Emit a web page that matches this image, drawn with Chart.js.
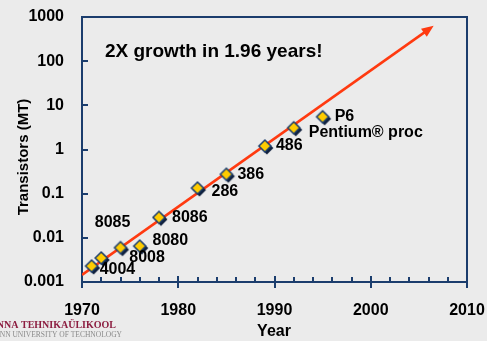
<!DOCTYPE html>
<html lang="en">
<head>
  <meta charset="UTF-8">
  <title>Transistor count growth</title>
  <script src="https://cdn.jsdelivr.net/npm/chart.js"></script>
  <style>
    * { margin: 0; padding: 0; box-sizing: border-box; }
    html, body { background: #ebebeb; width: 487px; height: 341px; overflow: hidden; }
    .chart-container { position: relative; width: 487px; height: 341px; }
  </style>
</head>
<body>
  <div class="chart-container">
    <canvas id="mooreChart" width="487" height="341"></canvas>
  </div>

  <script>
    // Processor data (transistors in millions)
    const chips = ['4004', '8008', '8080', '8085', '8086', '286', '386', '486', 'Pentium® proc', 'P6'];
    const years = [1971, 1972, 1974, 1976, 1978, 1982, 1985, 1989, 1992, 1995];
    const transistors = [0.0023, 0.0035, 0.006, 0.0065, 0.029, 0.134, 0.275, 1.2, 3.1, 5.5];

    // Trend line (2X in 1.96 years)
    const trendYears = [1970, 2006.2];
    const trendValues = [0.00145, 560];

    const xTicks = [1970, 1980, 1990, 2000, 2010];
    const yTicks = [0.001, 0.01, 0.1, 1, 10, 100, 1000];

    const NAVY = '#1b3d6d';
    const FONT = "'Liberation Sans', Arial, sans-serif";

    // label offsets from each marker (px)
    const labelOffsets = {
      '4004': [8, 4], '8008': [28, 0], '8080': [32, -7], '8085': [-45, -24],
      '8086': [13, 0], '286': [14, 4], '386': [11, 0], '486': [11, 0],
      'Pentium® proc': [15, 5], 'P6': [12, 0]
    };

    // diamond marker with a dark drop shadow, used as point style
    function makeDiamond() {
      const c = document.createElement('canvas');
      c.width = 20; c.height = 20;
      const g = c.getContext('2d');
      const diamond = (cx, cy, r) => {
        g.beginPath();
        g.moveTo(cx, cy - r); g.lineTo(cx + r, cy); g.lineTo(cx, cy + r); g.lineTo(cx - r, cy);
        g.closePath();
      };
      diamond(12, 12, 6.5);
      g.fillStyle = '#0e1f3d';
      g.fill();
      diamond(10, 10, 6);
      g.fillStyle = '#ffcc00';
      g.fill();
      g.lineWidth = 1.5;
      g.strokeStyle = NAVY;
      g.stroke();
      return c;
    }

    const decorPlugin = {
      id: 'decor',
      beforeDatasetsDraw(chart) {
        const { ctx, chartArea: a, scales: { x, y } } = chart;
        ctx.save();
        ctx.strokeStyle = NAVY;
        ctx.lineWidth = 2;
        ctx.strokeRect(a.left, a.top, a.right - a.left, a.bottom - a.top);
        ctx.beginPath();
        // x ticks: major cross the axis, minor every 2 years inside
        for (let yr = 1970; yr <= 2010; yr += 2) {
          const px = Math.round(x.getPixelForValue(yr));
          if (yr % 10 === 0) {
            ctx.moveTo(px, a.bottom - 6);
            ctx.lineTo(px, a.bottom + 6);
          } else {
            ctx.moveTo(px, a.bottom - 5);
            ctx.lineTo(px, a.bottom);
          }
        }
        // y ticks inside
        yTicks.forEach(v => {
          const py = Math.round(y.getPixelForValue(v));
          ctx.moveTo(a.left, py);
          ctx.lineTo(a.left + 6, py);
        });
        ctx.stroke();
        ctx.restore();
      },
      afterDatasetsDraw(chart) {
        const { ctx } = chart;
        ctx.save();

        // arrow head on trend line
        const pts = chart.getDatasetMeta(0).data;
        const p0 = pts[0], p1 = pts[pts.length - 1];
        const ang = Math.atan2(p1.y - p0.y, p1.x - p0.x);
        ctx.fillStyle = '#ff3a10';
        ctx.beginPath();
        ctx.moveTo(p1.x + Math.cos(ang) * 4, p1.y + Math.sin(ang) * 4);
        ctx.lineTo(p1.x - Math.cos(ang) * 8 - Math.sin(ang) * 5, p1.y - Math.sin(ang) * 8 + Math.cos(ang) * 5);
        ctx.lineTo(p1.x - Math.cos(ang) * 8 + Math.sin(ang) * 5, p1.y - Math.sin(ang) * 8 - Math.cos(ang) * 5);
        ctx.closePath();
        ctx.fill();

        // chip labels
        ctx.fillStyle = '#000';
        ctx.font = 'bold 16px ' + FONT;
        ctx.textAlign = 'left';
        ctx.textBaseline = 'middle';
        const marks = chart.getDatasetMeta(1).data;
        marks.forEach((m, i) => {
          const off = labelOffsets[chips[i]];
          ctx.fillText(chips[i], m.x + off[0], m.y + off[1]);
        });

        // headline
        ctx.font = 'bold 19px ' + FONT;
        ctx.fillText('2X growth in 1.96 years!', 105, 52);

        // axis titles
        ctx.font = 'bold 16px ' + FONT;
        ctx.textAlign = 'center';
        ctx.fillText('Year', 274, 332);
        ctx.save();
        ctx.translate(24, 157);
        ctx.rotate(-Math.PI / 2);
        ctx.font = 'bold 15px ' + FONT;
        ctx.fillText('Transistors (MT)', 0, 0);
        ctx.restore();

        // logo text, clipped at the left edge
        ctx.textAlign = 'right';
        ctx.font = "bold 10px 'Liberation Serif', serif";
        ctx.fillStyle = '#8c1d40';
        ctx.fillText('TALLINNA TEHNIKAÜLIKOOL', 116, 325);
        ctx.font = "7.5px 'Liberation Serif', serif";
        ctx.fillStyle = '#8a8a8a';
        ctx.fillText('TALLINN UNIVERSITY OF TECHNOLOGY', 122, 335);
        ctx.restore();
      }
    };

    new Chart(document.getElementById('mooreChart'), {
      type: 'scatter',
      data: {
        datasets: [{
          label: 'Trend',
          type: 'line',
          order: 2,
          data: trendYears.map((yr, i) => ({ x: yr, y: trendValues[i] })),
          borderColor: '#ff3a10',
          borderWidth: 2.5,
          pointRadius: 0,
          fill: false
        }, {
          label: 'Processors',
          order: 1,
          data: years.map((yr, i) => ({ x: yr, y: transistors[i] })),
          pointStyle: makeDiamond(),
          pointRadius: 6
        }]
      },
      options: {
        responsive: false,
        animation: false,
        layout: { padding: { left: 0, right: 20, top: 17, bottom: 0 } },
        plugins: { legend: { display: false }, tooltip: { enabled: false } },
        scales: {
          x: {
            type: 'linear',
            min: 1970,
            max: 2010,
            grid: { display: false, drawTicks: false },
            border: { display: false },
            afterBuildTicks: s => { s.ticks = xTicks.map(v => ({ value: v })); },
            afterFit: s => { s.height = 59; s.paddingLeft = 0; s.paddingRight = 0; },
            ticks: {
              color: '#000',
              padding: 19,
              font: { family: FONT, size: 16, weight: 'bold' },
              callback: v => String(v)
            }
          },
          y: {
            type: 'logarithmic',
            min: 0.001,
            max: 1000,
            grid: { display: false, drawTicks: false },
            border: { display: false },
            afterBuildTicks: s => { s.ticks = yTicks.map(v => ({ value: v })); },
            afterFit: s => { s.width = 82; s.paddingTop = 0; s.paddingBottom = 0; },
            ticks: {
              color: '#000',
              padding: 18,
              font: { family: FONT, size: 16, weight: 'bold' },
              callback: v => String(v)
            }
          }
        }
      },
      plugins: [decorPlugin]
    });
  </script>
</body>
</html>
